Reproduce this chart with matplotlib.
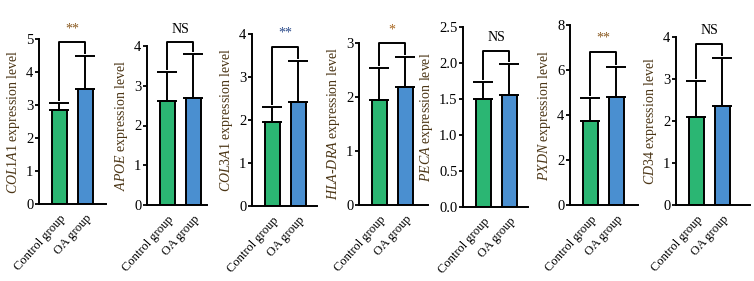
import matplotlib
matplotlib.use("Agg")
import matplotlib.pyplot as plt
import matplotlib.transforms as mtransforms
import numpy as np

genes = ["COL1A1", "APOE", "COL3A1", "HLA-DRA", "PECA", "PXDN", "CD34"]
groups = ["Control group", "OA group"]
control_mean = [2.85, 2.62, 1.95, 1.95, 1.50, 3.73, 2.10]
control_err = [0.21, 0.72, 0.35, 0.59, 0.24, 1.02, 0.85]
oa_mean = [3.48, 2.69, 2.42, 2.18, 1.56, 4.80, 2.36]
oa_err = [1.02, 1.11, 0.95, 0.56, 0.43, 1.35, 1.14]
bracket_y = [4.9, 4.1, 3.7, 3.0, 2.17, 6.8, 3.83]
sig_labels = ["**", "NS", "**", "*", "NS", "**", "NS"]
y_max = [5, 4, 4, 3, 2.5, 8, 4]
y_step = [1, 1, 1, 1, 0.5, 2, 1]

# pixel layout of each panel: left spine, right end, top, bottom
boxes = [(39, 106, 39, 204), (147, 207, 46, 205), (252, 317, 34, 206),
         (359, 428, 43, 205), (463, 528, 27, 207), (570, 638, 25, 205),
         (676, 750, 37, 205)]
sig_colors = ["#8a5a20", "black", "#2a4a8a", "#a8661e", "black", "#8a5a20", "black"]

green = "#2bb673"
blue = "#4a8fd0"
label_color = "#4a3414"

plt.rcParams["font.family"] = ["Liberation Serif", "DejaVu Serif"]
plt.rcParams["mathtext.fontset"] = "custom"
plt.rcParams["mathtext.it"] = "Liberation Serif:italic"
plt.rcParams["mathtext.rm"] = "Liberation Serif"
W, H = 754, 281
fig = plt.figure(figsize=(W / 100, H / 100), dpi=100)
shift = mtransforms.ScaledTranslation(9 / 100, -2 / 100, fig.dpi_scale_trans)

for i, gene in enumerate(genes):
    L, R, T, B = boxes[i]
    ax = fig.add_axes([L / W, 1 - B / H, (R - L) / W, (B - T) / H])
    unit = 26.0
    ax.set_xlim(-0.78, -0.78 + (R - L) / unit)
    ax.set_ylim(0, y_max[i])

    x = np.arange(2)
    means = [control_mean[i], oa_mean[i]]
    errs = [control_err[i], oa_err[i]]
    ax.bar(x, means, width=0.58, color=[green, blue], edgecolor="black",
           linewidth=1.4, zorder=2)
    ax.errorbar(x, means, yerr=[[0, 0], errs], fmt="none", ecolor="black",
                elinewidth=1.4, capsize=7, capthick=1.4, zorder=3)

    # significance bracket
    gap = 3.0 / (B - T) * y_max[i]
    h = bracket_y[i]
    tops = [means[0] + errs[0] + gap, means[1] + errs[1] + gap]
    ax.plot([0, 0, 1, 1], [tops[0], h, h, tops[1]], color="black",
            lw=1.4, clip_on=False, zorder=4)
    ax.text(0.5, h + 0.04 * y_max[i], sig_labels[i], ha="center", va="bottom",
            fontsize=10, color=sig_colors[i], clip_on=False)

    ticks = np.arange(0, y_max[i] + 1e-9, y_step[i])
    ax.set_yticks(ticks)
    if y_step[i] < 1:
        ax.set_yticklabels([f"{t:.1f}" for t in ticks])
    else:
        ax.set_yticklabels([f"{t:.0f}" for t in ticks])
    ax.set_xticks(x)
    ax.set_xticklabels(groups, rotation=48, ha="right", va="top",
                       rotation_mode="anchor", fontsize=9)
    for lab in ax.get_xticklabels():
        lab.set_transform(lab.get_transform() + shift)
    ax.tick_params(axis="x", length=0, pad=6)
    ax.tick_params(axis="y", length=3, width=1.3, labelsize=10.5, pad=1)

    for s in ["top", "right"]:
        ax.spines[s].set_visible(False)
    for s in ["left", "bottom"]:
        ax.spines[s].set_linewidth(1.4)

    ax.set_ylabel(r"$\it{" + gene.replace("-", "\u2010") + "}$ expression level",
                  fontsize=10, color=label_color, labelpad=3)

fig.savefig("out.png", dpi=100)
